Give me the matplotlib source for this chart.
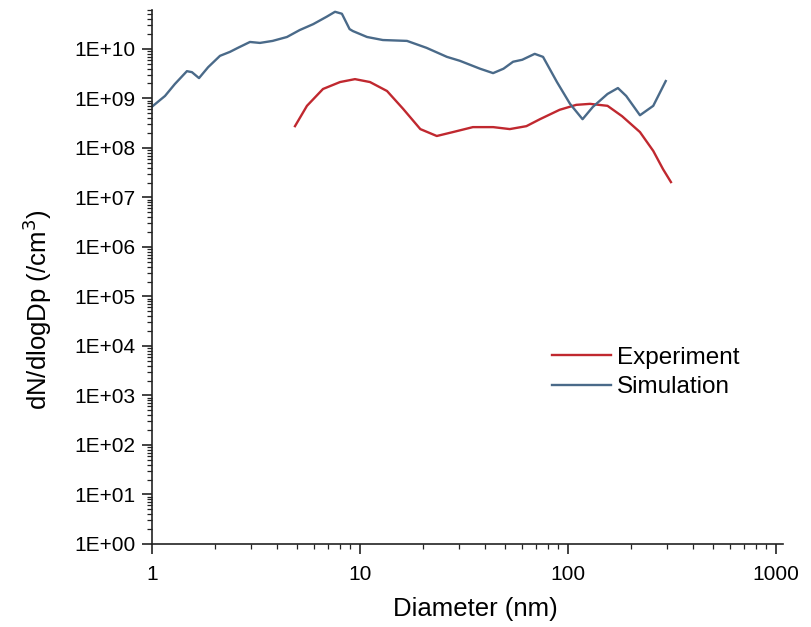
import numpy as np
import matplotlib.pyplot as plt
from matplotlib.ticker import LogLocator, FuncFormatter, NullFormatter

plt.rcParams['font.family'] = ['Liberation Sans', 'DejaVu Sans']

# values (diameter in nm, dN/dlogDp in /cm3)
sim_d = [1.0, 1.155, 1.288, 1.472, 1.556, 1.683, 1.862, 2.123, 2.371, 2.588,
         2.958, 3.304, 3.802, 4.457, 5.129, 5.957, 6.918, 7.586, 8.185, 8.913,
         9.247, 10.81, 12.88, 16.83, 20.89, 26.18, 30.2, 37.76, 43.65, 48.98,
         54.45, 60.26, 69.18, 75.86, 88.51, 102.3, 117.5, 131.8, 154.9, 173.8,
         190.5, 221.8, 257.0, 295.1]
sim_n = [6.8e8, 1.12e9, 1.95e9, 3.55e9, 3.39e9, 2.57e9, 4.27e9, 7.24e9, 8.71e9, 1.05e10,
         1.38e10, 1.32e10, 1.45e10, 1.74e10, 2.4e10, 3.16e10, 4.47e10, 5.62e10, 5.13e10, 2.51e10,
         2.29e10, 1.74e10, 1.51e10, 1.45e10, 1.05e10, 6.9e9, 5.75e9, 3.98e9, 3.24e9, 3.98e9,
         5.5e9, 6.03e9, 7.94e9, 6.9e9, 2.14e9, 7.76e8, 3.8e8, 6.76e8, 1.23e9, 1.62e9,
         1.12e9, 4.57e8, 7.08e8, 2.24e9]

exp_d = [4.87, 5.56, 6.64, 8.02, 9.46, 11.17, 13.49, 16.11, 19.5, 23.4,
         28.0, 34.9, 43.7, 52.5, 63.1, 73.3, 91.2, 109.6, 127.6, 154.9,
         182.0, 221.8, 257.0, 286.4, 312.6]
exp_n = [2.75e8, 7.08e8, 1.55e9, 2.14e9, 2.45e9, 2.14e9, 1.41e9, 6.17e8, 2.4e8, 1.74e8,
         2.09e8, 2.63e8, 2.63e8, 2.4e8, 2.75e8, 3.8e8, 5.89e8, 7.41e8, 7.76e8, 7.08e8,
         4.37e8, 2.09e8, 8.7e7, 3.72e7, 2.04e7]

fig = plt.figure(figsize=(8.11, 6.27), dpi=100)
ax = fig.add_axes([0.1874, 0.1324, 0.778, 0.852])

ax.plot(exp_d, exp_n, color='#c0282f', lw=1.7, label='Experiment')
ax.plot(sim_d, sim_n, color='#4a6a89', lw=1.7, label='Simulation')

ax.set_xscale('log')
ax.set_yscale('log')
ax.set_xlim(1, 1080)
ax.set_ylim(1, 10**10.79)

ax.spines['top'].set_visible(False)
ax.spines['right'].set_visible(False)
for s in ['left', 'bottom']:
    ax.spines[s].set_linewidth(1.2)
    ax.spines[s].set_color('#222222')

ax.xaxis.set_major_locator(LogLocator(base=10, numticks=10))
ax.xaxis.set_minor_locator(LogLocator(base=10, subs=np.arange(2, 10), numticks=100))
ax.xaxis.set_major_formatter(FuncFormatter(lambda v, p: f"{int(round(v))}"))
ax.xaxis.set_minor_formatter(NullFormatter())

ax.yaxis.set_major_locator(LogLocator(base=10, numticks=20))
ax.yaxis.set_minor_locator(LogLocator(base=10, subs=np.arange(2, 10), numticks=200))
ax.yaxis.set_major_formatter(FuncFormatter(lambda v, p: f"1E+{int(round(np.log10(v))):02d}"))
ax.yaxis.set_minor_formatter(NullFormatter())

ax.tick_params(which='major', direction='out', length=7, width=1.2, labelsize=15, color='#222222')
ax.tick_params(which='minor', direction='out', length=3.5, width=0.9, color='#222222')
ax.tick_params(axis='x', which='major', pad=8)
ax.tick_params(axis='y', which='major', pad=5)

ax.set_xlabel('Diameter (nm)', fontsize=18.5)
ax.xaxis.set_label_coords(0.513, -0.1)
ax.set_ylabel('dN/dlogDp (/cm$^3$)', fontsize=18.5)
ax.yaxis.set_label_coords(-0.156, 0.438)

ax.legend(loc='upper left', bbox_to_anchor=(0.6, 0.41), frameon=False,
          fontsize=17.5, handlelength=2.4, handletextpad=0.25, labelspacing=0.3)

fig.savefig('out.png', dpi=100)
